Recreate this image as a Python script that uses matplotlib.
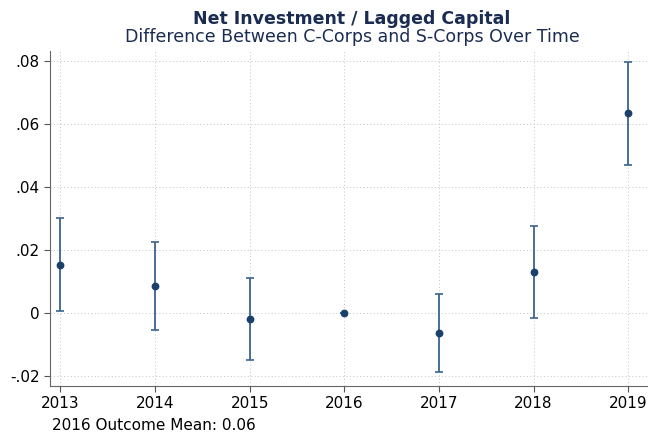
import numpy as np
import matplotlib
matplotlib.use('Agg')
import matplotlib.pyplot as plt

# Данные
years = [2013, 2014, 2015, 2016, 2017, 2018, 2019]
coef = [0.0152, 0.0086, -0.0019, 0.0, -0.0063, 0.0131, 0.0635]
ci_low = [0.0006, -0.0054, -0.0149, 0.0, -0.0189, -0.0016, 0.0470]
ci_high = [0.0302, 0.0225, 0.0112, 0.0, 0.0061, 0.0277, 0.0797]
y_ticks = [-0.02, 0, 0.02, 0.04, 0.06, 0.08]
y_labels = ['-.02', '0', '.02', '.04', '.06', '.08']

navy = '#1a2c52'
marker_col = '#1a406b'
err_col = '#3a6591'

fig = plt.figure(figsize=(6.48, 4.36), dpi=100)
ax = fig.add_axes([50 / 648, 1 - 386 / 436, 598 / 648, 335 / 436])

coef = np.array(coef)
yerr = [coef - np.array(ci_low), np.array(ci_high) - coef]
ax.errorbar(years, coef, yerr=yerr, fmt='none', ecolor=err_col, elinewidth=1.3,
            capsize=3, capthick=1.2, zorder=2)
ax.plot(years, coef, 'o', color=marker_col, markersize=4.6, zorder=3)

ax.set_xlim(2012.89, 2019.21)
ax.set_ylim(-0.0232, 0.0832)
ax.set_xticks(years)
ax.set_yticks(y_ticks)
ax.set_yticklabels(y_labels)
ax.tick_params(labelsize=11, length=4, color='#555555')
ax.grid(True, linestyle=(0, (1, 2.5)), color='#c4c4c4', linewidth=0.7)
ax.set_axisbelow(True)
for s in ['top', 'right']:
    ax.spines[s].set_visible(False)
for s in ['left', 'bottom']:
    ax.spines[s].set_color('#666666')

fig.text(352 / 648, 1 - 19 / 436, 'Net Investment / Lagged Capital', ha='center', va='center',
         fontsize=12.5, fontweight='bold', color=navy)
fig.text(352 / 648, 1 - 37 / 436, 'Difference Between C-Corps and S-Corps Over Time', ha='center',
         va='center', fontsize=12.5, color=navy)
fig.text(52 / 648, 1 - 425 / 436, '2016 Outcome Mean: 0.06', ha='left', va='center',
         fontsize=11, color='black')

fig.savefig('out.png', dpi=100)
